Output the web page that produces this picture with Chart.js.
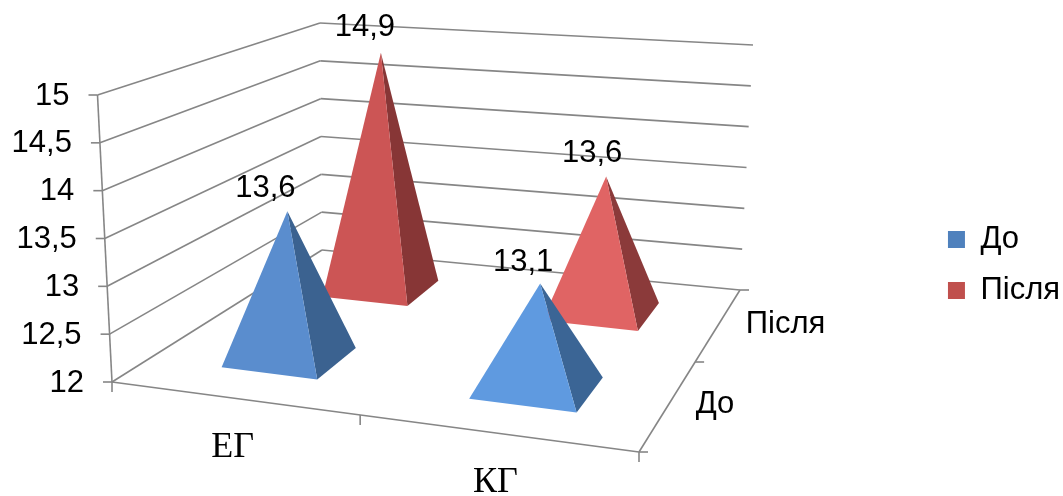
<!DOCTYPE html>
<html>
<head>
<meta charset="utf-8">
<style>
html, body { margin: 0; padding: 0; background: #fff; }
</style>
<script src="https://cdn.jsdelivr.net/npm/chart.js@4/dist/chart.umd.min.js"></script>
</head>
<body>
<canvas id="canvas1" width="1063" height="496"></canvas>
<script>
var groups = ['ЕГ', 'КГ'];
var periods = ['До', 'Після'];
var dataBefore = [13.6, 13.1];
var dataAfter = [14.9, 13.6];
var valueTicks = [12, 12.5, 13, 13.5, 14, 14.5, 15];

// label texts use a decimal comma like the original
function comma(v) { return String(v).replace('.', ','); }

// box corners on screen: floor and top, front-left / front-right / back-left / back-right
var floorBox = [[112, 382], [639, 452], [322, 250], [740, 290]];
var topBox = [[97.5, 95], [656, 142], [320, 23], [753, 45]];
var gridColor = '#868686';
var textFont = '31px "Liberation Sans"';
var groupFont = '36px "Liberation Serif"';

// [front, side] colours per group
var beforeFaces = [['#5a8dce', '#3b6290'], ['#5f9ae0', '#3b6595']];
var afterFaces = [['#cc5555', '#873636'], ['#e06464', '#8b3a3a']];
var labelShift = { 0: [[-22, -23], [-17, -21]], 1: [[-16, -25], [-14, -23]] };

function lerp(a, b, t) { return a + (b - a) * t; }

// perspective: depth shrinks towards the back wall, width grows to the right
function warpV(v) { return v * 1.25 / (1 + 0.25 * v); }
function warpU(u) { return u * 0.89 / (1 - 0.11 * u); }

function project(u, v, w) {
    var s = warpU(u), d = warpV(v), p = [0, 1].map(function (i) {
        var low = lerp(lerp(floorBox[0][i], floorBox[1][i], s), lerp(floorBox[2][i], floorBox[3][i], s), d);
        var high = lerp(lerp(topBox[0][i], topBox[1][i], s), lerp(topBox[2][i], topBox[3][i], s), d);
        return lerp(low, high, w);
    });
    return { x: p[0], y: p[1] };
}

function line(ctx, a, b) {
    ctx.beginPath();
    ctx.moveTo(a.x, a.y);
    ctx.lineTo(b.x, b.y);
    ctx.stroke();
}

function face(ctx, pts, color) {
    ctx.fillStyle = color;
    ctx.beginPath();
    ctx.moveTo(pts[0].x, pts[0].y);
    pts.slice(1).forEach(function (p) { ctx.lineTo(p.x, p.y); });
    ctx.closePath();
    ctx.fill();
}

var pyramid3d = {
    id: 'pyramid3d',
    beforeDatasetDraw: function () { return false; },
    beforeDatasetsDraw: function (chart) {
        var ctx = chart.ctx, xs = chart.scales.x, ys = chart.scales.y, zs = chart.scales.z;
        var fu = function (i) { return (xs.getPixelForValue(i) - xs.left) / xs.width; };
        var fv = function (i) { return (zs.getPixelForValue(i) - zs.left) / zs.width; };
        var fw = function (val) { return (ys.bottom - ys.getPixelForValue(val)) / ys.height; };

        ctx.save();
        ctx.strokeStyle = gridColor;
        ctx.lineWidth = 1.6;

        // walls and value axis
        ctx.font = textFont;
        ctx.fillStyle = '#000';
        ctx.textAlign = 'right';
        ctx.textBaseline = 'middle';
        valueTicks.forEach(function (val) {
            var w = fw(val), a = project(0, 0, w);
            line(ctx, a, project(0, 1, w));
            line(ctx, project(0, 1, w), project(1, 1, w));
            line(ctx, a, { x: a.x - 9, y: a.y });
            ctx.fillText(comma(val), a.x - 28, a.y + 1);
        });
        line(ctx, project(0, 0, 0), project(0, 0, 1));

        // floor edges and tick marks
        line(ctx, project(0, 0, 0), project(1, 0, 0));
        line(ctx, project(1, 0, 0), project(1, 1, 0));
        [0, 0.5, 1].forEach(function (u) {
            var p = project(u, 0, 0);
            line(ctx, p, { x: p.x, y: p.y + 10 });
        });
        [0, 0.5, 1].forEach(function (v) {
            var p = project(1, v, 0);
            line(ctx, p, { x: p.x + 9, y: p.y });
        });

        // axis category labels
        ctx.textAlign = 'left';
        periods.forEach(function (name, i) {
            var p = project(1, fv(i), 0);
            ctx.fillText(name, p.x + 27, p.y);
        });
        ctx.font = groupFont;
        ctx.textAlign = 'center';
        groups.forEach(function (name, i) {
            var p = project(fu(i), 0, 0);
            ctx.fillText(name, p.x, p.y + 50);
        });

        // back row first so the front row covers it
        var hu = 0.1, hv = 0.1;
        [1, 0].forEach(function (k) {
            var values = chart.data.datasets[k].data, faces = k ? afterFaces : beforeFaces;
            var v = fv(k);
            values.forEach(function (val, i) {
                var u = fu(i) + 0.006, w = fw(val);
                var apex = project(u, v, w);
                var a = project(u - hu, v - hv, 0), b = project(u + hu, v - hv, 0), c = project(u + hu, v + hv, 0);
                face(ctx, [b, c, apex], faces[i][1]);
                face(ctx, [a, b, apex], faces[i][0]);
            });
        });

        // value labels on top of everything
        ctx.font = textFont;
        ctx.fillStyle = '#000';
        [1, 0].forEach(function (k) {
            var v = fv(k);
            chart.data.datasets[k].data.forEach(function (val, i) {
                var apex = project(fu(i) + 0.006, v, fw(val));
                ctx.fillText(comma(val), apex.x + labelShift[k][i][0], apex.y + labelShift[k][i][1]);
            });
        });
        ctx.restore();
    }
};

var ctx1 = document.getElementById('canvas1').getContext('2d');
window.myChart = new Chart(ctx1, {
    type: 'bar',
    data: {
        labels: groups,
        datasets: [{
            label: periods[0],
            backgroundColor: '#4f81bd',
            borderWidth: 0,
            data: dataBefore
        }, {
            label: periods[1],
            backgroundColor: '#c0504d',
            borderWidth: 0,
            data: dataAfter
        }]
    },
    plugins: [pyramid3d],
    options: {
        responsive: false,
        animation: false,
        layout: { padding: { top: 34, right: -7 } },
        scales: {
            x: { display: false, offset: true },
            z: { display: false, axis: 'x', type: 'category', labels: periods, offset: true },
            y: { display: false, min: 12, max: 15, ticks: { stepSize: 0.5 } }
        },
        plugins: {
            title: { display: false },
            tooltip: { enabled: false },
            legend: {
                position: 'right',
                labels: {
                    color: '#000',
                    boxWidth: 17,
                    boxHeight: 17,
                    padding: 20,
                    font: { family: 'Liberation Sans', size: 31 }
                }
            }
        }
    }
});
</script>
</body>
</html>
